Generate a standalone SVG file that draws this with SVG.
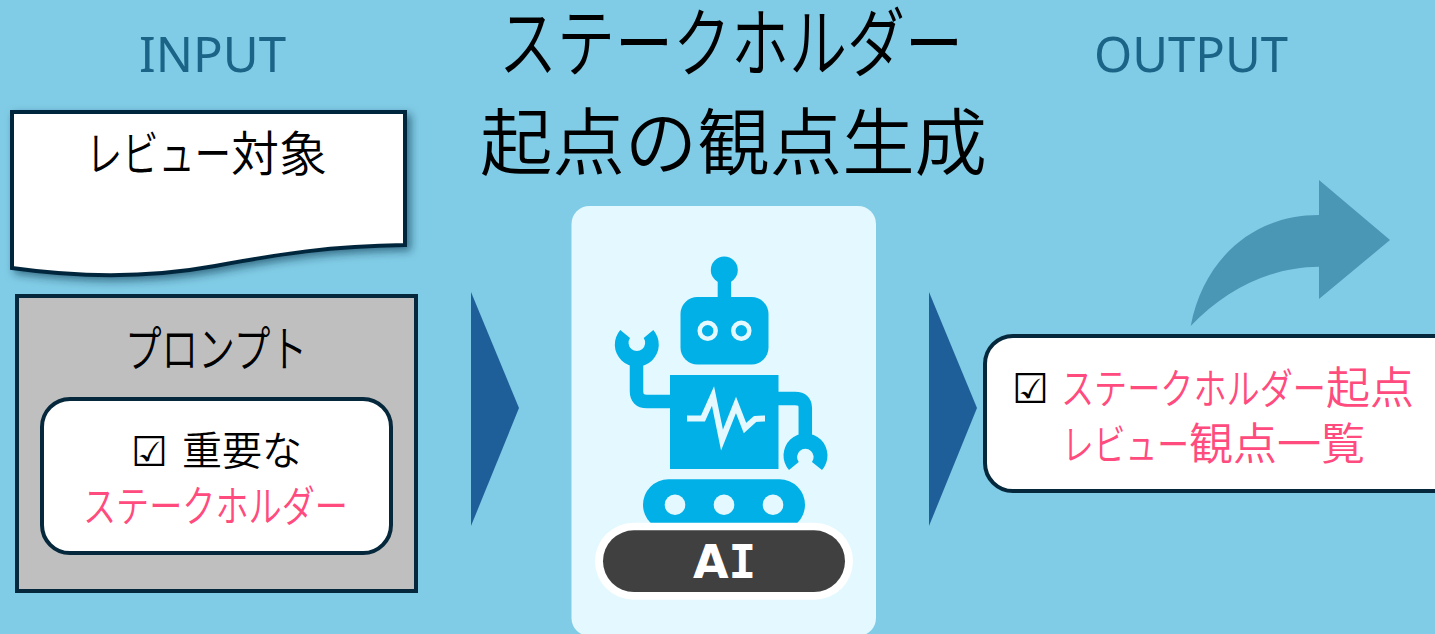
<svg xmlns="http://www.w3.org/2000/svg" width="1435" height="634" viewBox="0 0 1435 634">
<style>
.jp{font-family:"Noto Sans CJK JP","Noto Sans",sans-serif;font-weight:350;fill:#000}
.pink{fill:#FF4B7D}
.lat{font-family:"Noto Sans",sans-serif;font-size:50px;fill:#1B6487}
.chk{font-family:"DejaVu Sans",sans-serif;font-size:41px;fill:#000}
.ln{stroke:#06283C;stroke-width:4}
.robot{fill:#00B0E6}
.arm{fill:none;stroke:#00B0E6;stroke-width:13.5}
</style>
<defs>
<filter id="sh" x="-5%" y="-5%" width="112%" height="120%"><feDropShadow dx="4" dy="4" stdDeviation="4" flood-color="#06283C" flood-opacity="0.55"/></filter>
</defs>
<rect width="1435" height="634" fill="#80CCE6"/>

<g id="title">
<text class="jp" x="499" y="71" font-size="76" textLength="464" lengthAdjust="spacingAndGlyphs">ステークホルダー</text>
<text class="jp" x="480" y="169" font-size="73" textLength="507" lengthAdjust="spacingAndGlyphs">起点の観点生成</text>
</g>
<text id="input-label" class="lat" x="139" y="72" textLength="147" lengthAdjust="spacingAndGlyphs">INPUT</text>
<text id="output-label" class="lat" x="1094" y="72" textLength="194" lengthAdjust="spacingAndGlyphs">OUTPUT</text>

<g id="review-doc">
<path class="ln" fill="#fff" filter="url(#sh)" d="M12 112H405V245C330 246 280 254 215 266C160 276 90 279 12 268Z"/>
<text class="jp" font-size="48" x="86" y="171"><tspan textLength="145" lengthAdjust="spacingAndGlyphs">レビュー</tspan><tspan>対象</tspan></text>
</g>

<g id="prompt">
<rect class="ln" x="17" y="296" width="399" height="295" fill="#BFBFBF"/>
<text class="jp" x="125" y="367" font-size="49" textLength="182" lengthAdjust="spacingAndGlyphs">プロンプト</text>
<rect class="ln" x="42" y="399" width="349" height="154" rx="28" fill="#fff"/>
<text class="chk" x="131" y="466">☑</text>
<text class="jp" x="182" y="465" font-size="40" textLength="120" lengthAdjust="spacingAndGlyphs">重要な</text>
<text class="jp pink" x="83" y="522" font-size="43" textLength="265" lengthAdjust="spacingAndGlyphs">ステークホルダー</text>
</g>

<g id="connectors">
<path d="M471 292L519 408L471 526Z" fill="#1F5F99"/>
<path d="M929 292L977 408L929 526Z" fill="#1F5F99"/>
<path d="M1190.7 326C1203 262 1250 215 1319 215V180L1390 240L1319 299V266.7C1270 267 1225 290 1190.7 326Z" fill="#4A96B5"/>
</g>

<g id="ai-card">
<rect x="571.5" y="206" width="304.5" height="430" rx="18" fill="#E3F8FF"/>
<g id="robot">
<circle class="robot" cx="724.3" cy="270" r="13.5"/>
<rect class="robot" x="717.7" y="275" width="13.4" height="25"/>
<rect class="robot" x="680.5" y="297" width="88" height="67.5" rx="17"/>
<circle cx="707.7" cy="330.7" r="8" fill="none" stroke="#E3F8FF" stroke-width="4.5"/>
<circle cx="741.3" cy="330.7" r="8" fill="none" stroke="#E3F8FF" stroke-width="4.5"/>
<rect class="robot" x="670" y="375" width="108.5" height="94"/>
<path d="M687 418.5H703L713 396L722 440L736 405L745 428L755 419Q758 418.5 765 418.5" fill="none" stroke="#E3F8FF" stroke-width="6"/>
<path class="arm" d="M670 401.5H647Q636.5 401.5 636.5 391V360"/>
<path class="arm" d="M778 398.5H795Q805.3 398.5 805.3 408V442"/>
<path class="robot" fill-rule="evenodd" d="M620.3 330L630 338A8.3 8.3 0 1 0 643.7 338L653.3 330A22 22 0 1 1 620.3 330Z"/>
<path class="robot" fill-rule="evenodd" d="M789 470L798.7 462A8.3 8.3 0 1 1 812 462L822 470A22 22 0 1 0 789 470Z"/>
<rect class="robot" x="643" y="479.3" width="162" height="51" rx="25.5"/>
<circle cx="675" cy="504.7" r="10.3" fill="#E3F8FF"/>
<circle cx="724" cy="504.7" r="10.3" fill="#E3F8FF"/>
<circle cx="773" cy="504.7" r="10.3" fill="#E3F8FF"/>
</g>
<rect x="595" y="522.7" width="258" height="77" rx="38.5" fill="#fff"/>
<rect x="603" y="530.3" width="242" height="61.7" rx="31" fill="#404040"/>
<text x="693" y="578" font-family="DejaVu Sans,sans-serif" font-weight="700" font-size="46" fill="#fff">A<tspan font-family="DejaVu Sans Mono,monospace">I</tspan></text>
</g>

<g id="output">
<rect class="ln" x="985" y="336" width="480" height="155" rx="28" fill="#fff"/>
<text class="chk" x="1012" y="403">☑</text>
<text class="jp pink" x="1061" y="404" font-size="42"><tspan textLength="265" lengthAdjust="spacingAndGlyphs">ステークホルダー</tspan><tspan font-size="44">起点</tspan></text>
<text class="jp pink" x="1062" y="460" font-size="42"><tspan textLength="127" lengthAdjust="spacingAndGlyphs">レビュー</tspan><tspan font-size="44">観点一覧</tspan></text>
</g>
</svg>
